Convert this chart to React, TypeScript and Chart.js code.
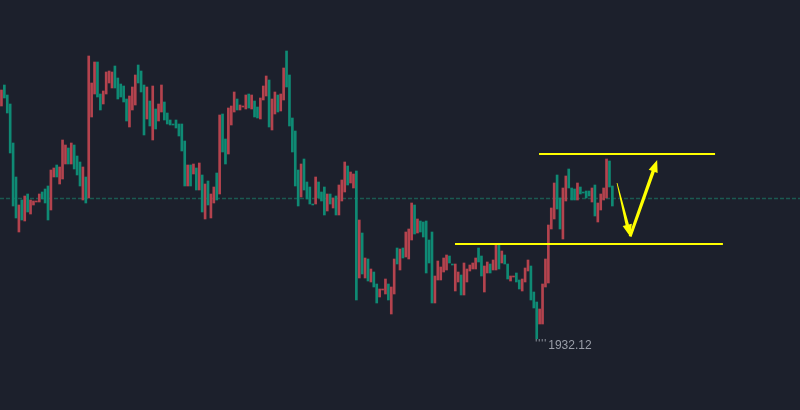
import React, { useEffect, useRef } from "react";
import { Chart, registerables } from "chart.js";

Chart.register(...registerables);

// Candle bodies (open / close)
const opens = [
  1957.0, 1956.2, 1954.7, 1950.7, 1945.4, 1944.2, 1945.5, 1944.0, 1946.4, 1944.8,
  1946.0, 1945.9, 1945.9, 1946.6, 1946.1, 1945.7, 1944.0, 1949.0, 1949.2, 1948.3,
  1949.3, 1952.0, 1951.5, 1949.6, 1951.7, 1949.1, 1948.5, 1947.4, 1949.3, 1945.7,
  1960.4, 1957.7, 1959.8, 1956.3, 1955.0, 1956.9, 1958.8, 1958.9, 1958.8, 1957.2,
  1956.1, 1956.3, 1955.8, 1953.9, 1956.4, 1957.3, 1958.5, 1957.7, 1956.8, 1952.5,
  1957.3, 1953.4, 1957.4, 1953.1, 1955.6, 1957.5, 1954.0, 1953.6, 1953.5, 1953.5,
  1953.2, 1952.4, 1950.9, 1947.4, 1949.5, 1947.4, 1949.6, 1947.0, 1949.7, 1944.8,
  1947.6, 1945.5, 1946.6, 1947.3, 1946.0, 1954.5, 1950.8, 1949.6, 1955.2, 1955.4,
  1956.8, 1955.0, 1955.5, 1955.4, 1956.5, 1955.2, 1956.5, 1954.3, 1954.2, 1956.2,
  1957.4, 1958.4, 1953.3, 1956.1, 1956.8, 1954.8, 1956.6, 1959.2, 1957.3, 1953.4,
  1950.8, 1947.4, 1945.4, 1949.6, 1947.0, 1946.1, 1945.6, 1945.5, 1948.3, 1946.2,
  1945.9, 1944.5, 1946.6, 1945.6, 1946.2, 1944.5, 1947.5, 1948.0, 1949.8, 1947.5,
  1948.8, 1948.6, 1936.0, 1944.0, 1938.6, 1940.2, 1937.9, 1939.1, 1937.3, 1935.7,
  1937.1, 1937.1, 1938.1, 1936.0, 1937.3, 1940.1, 1939.6, 1941.1, 1940.2, 1942.8,
  1943.1, 1945.7, 1942.6, 1944.1, 1942.8, 1942.3, 1938.7, 1939.7, 1935.7, 1938.4,
  1939.9, 1939.3, 1940.2, 1940.5, 1939.7, 1939.5, 1939.6, 1938.8, 1936.5, 1939.7,
  1939.1, 1939.5, 1939.7, 1940.2, 1939.8, 1938.4, 1939.4, 1939.8, 1938.7, 1940.0,
  1941.5, 1939.1, 1940.9, 1939.6, 1938.1, 1938.4, 1938.4, 1937.8, 1937.1, 1938.1,
  1939.2, 1940.0, 1936.0, 1935.2, 1932.12, 1935.1, 1937.6, 1940.1, 1943.5, 1945.2,
  1947.7, 1945.1, 1943.1, 1947.2, 1948.4, 1947.2, 1946.0, 1946.0, 1947.7, 1946.6,
  1946.7, 1946.2, 1946.4, 1947.2, 1944.4, 1945.7, 1946.6, 1947.2, 1950.1, 1947.3,
  1945.4,
];
const closes = [
  1955.4, 1957.5, 1956.5, 1955.6, 1951.7, 1948.3, 1942.8, 1946.0, 1943.9, 1946.6,
  1944.6, 1945.5, 1945.8, 1945.8, 1946.8, 1947.1, 1947.4, 1945.0, 1948.3, 1949.5,
  1947.6, 1948.1, 1949.6, 1951.2, 1949.6, 1951.5, 1950.4, 1949.8, 1946.0, 1948.3,
  1946.2, 1954.3, 1956.6, 1959.8, 1956.6, 1955.6, 1956.6, 1957.7, 1957.2, 1959.4,
  1958.2, 1957.6, 1957.4, 1956.1, 1953.3, 1955.0, 1955.5, 1959.5, 1958.9, 1957.5,
  1954.1, 1955.9, 1952.0, 1955.1, 1953.9, 1954.8, 1955.8, 1954.7, 1954.0, 1953.6,
  1954.0, 1953.6, 1953.6, 1951.9, 1947.4, 1949.5, 1948.6, 1949.2, 1947.0, 1948.5,
  1944.1, 1947.9, 1944.2, 1945.7, 1948.7, 1946.6, 1954.6, 1952.1, 1950.6, 1953.5,
  1954.8, 1956.1, 1955.0, 1955.3, 1955.1, 1956.6, 1955.1, 1955.9, 1955.3, 1954.1,
  1956.0, 1956.4, 1958.0, 1953.0, 1954.6, 1956.5, 1954.9, 1956.0, 1960.9, 1958.5,
  1954.2, 1952.9, 1949.0, 1946.3, 1950.1, 1947.8, 1947.3, 1945.6, 1945.6, 1947.8,
  1946.8, 1947.3, 1944.9, 1946.6, 1945.2, 1946.4, 1944.5, 1945.9, 1946.8, 1949.4,
  1947.7, 1947.2, 1948.9, 1938.2, 1942.7, 1938.2, 1940.1, 1937.8, 1938.8, 1937.6,
  1936.3, 1937.0, 1936.6, 1937.6, 1934.6, 1936.6, 1941.2, 1939.0, 1941.2, 1940.3,
  1940.1, 1942.0, 1945.5, 1942.7, 1943.9, 1943.8, 1943.9, 1942.0, 1942.8, 1935.7,
  1938.0, 1938.0, 1938.8, 1939.0, 1940.4, 1939.6, 1936.9, 1937.8, 1938.5, 1936.5,
  1937.8, 1938.9, 1939.1, 1939.1, 1941.2, 1940.4, 1936.8, 1938.7, 1939.6, 1939.0,
  1939.0, 1941.5, 1939.7, 1940.5, 1939.6, 1937.9, 1938.3, 1938.7, 1938.0, 1936.9,
  1937.8, 1938.9, 1939.4, 1936.8, 1935.8, 1933.6, 1933.6, 1937.3, 1937.7, 1943.1,
  1944.1, 1948.5, 1946.2, 1942.1, 1945.9, 1949.1, 1947.2, 1947.1, 1946.0, 1947.3,
  1946.8, 1946.9, 1946.9, 1945.8, 1947.5, 1943.8, 1945.0, 1946.0, 1946.2, 1949.9,
  1947.4,
];

// Total time slots on the axis (bars + empty space to the right)
const slotCount = 275;
const slotLabels = Array.from({ length: slotCount }, (_, i) => String(i));

// Price range shown
const priceMin = 1925;
const priceMax = 1966;

// Current price (dashed line)
const lastPrice = 1946.2;

// Drawn annotations, in data units (slot index, price)
const resistance = { price: 1950.6, from: 184.8, to: 245.3 };
const support = { price: 1941.6, from: 155.9, to: 248.0 };
const arrowStart = { slot: 211.6, price: 1947.7 };
const arrowBottom = { slot: 216.1, price: 1942.35 };
const arrowTop = { slot: 225.4, price: 1950.0 };

const UP = "#0f8a74";
const DOWN = "#b4434e";
const BG = "#1c202c";
const YELLOW = "#ffff00";

function drawArrow(ctx, fx, fy, tx, ty, w0, w1, headLen, headW) {
  const dx = tx - fx;
  const dy = ty - fy;
  const len = Math.hypot(dx, dy);
  const ux = dx / len;
  const uy = dy / len;
  const nx = -uy;
  const ny = ux;
  const bx = tx - ux * headLen;
  const by = ty - uy * headLen;
  ctx.beginPath();
  ctx.moveTo(fx + (nx * w0) / 2, fy + (ny * w0) / 2);
  ctx.lineTo(bx + (nx * w1) / 2, by + (ny * w1) / 2);
  ctx.lineTo(bx + (nx * headW) / 2, by + (ny * headW) / 2);
  ctx.lineTo(tx, ty);
  ctx.lineTo(bx - (nx * headW) / 2, by - (ny * headW) / 2);
  ctx.lineTo(bx - (nx * w1) / 2, by - (ny * w1) / 2);
  ctx.lineTo(fx - (nx * w0) / 2, fy - (ny * w0) / 2);
  ctx.closePath();
  ctx.fill();
}

const overlayPlugin = {
  id: "overlay",
  beforeDraw(chart) {
    const { ctx, width, height } = chart;
    ctx.save();
    ctx.fillStyle = BG;
    ctx.fillRect(0, 0, width, height);
    ctx.restore();
  },
  beforeDatasetsDraw(chart) {
    const { ctx, chartArea } = chart;
    const y = Math.round(chart.scales.y.getPixelForValue(lastPrice)) + 0.5;
    ctx.save();
    ctx.strokeStyle = "#1b5a51";
    ctx.lineWidth = 1.3;
    ctx.setLineDash([4, 2]);
    ctx.beginPath();
    ctx.moveTo(chartArea.left, y);
    ctx.lineTo(chartArea.right, y);
    ctx.stroke();
    ctx.restore();
  },
  afterDatasetsDraw(chart) {
    const { ctx } = chart;
    const xs = chart.scales.x;
    const ys = chart.scales.y;
    ctx.save();
    // horizontal levels
    ctx.strokeStyle = YELLOW;
    ctx.lineWidth = 2;
    for (const lv of [resistance, support]) {
      const y = ys.getPixelForValue(lv.price);
      ctx.beginPath();
      ctx.moveTo(xs.getPixelForValue(lv.from), y);
      ctx.lineTo(xs.getPixelForValue(lv.to), y);
      ctx.stroke();
    }
    // arrows
    ctx.fillStyle = YELLOW;
    const sx = xs.getPixelForValue(arrowStart.slot);
    const sy = ys.getPixelForValue(arrowStart.price);
    const bx = xs.getPixelForValue(arrowBottom.slot);
    const by = ys.getPixelForValue(arrowBottom.price);
    const tx = xs.getPixelForValue(arrowTop.slot);
    const ty = ys.getPixelForValue(arrowTop.price);
    drawArrow(ctx, sx, sy, bx, by, 0.8, 3.4, 12, 9.5);
    drawArrow(ctx, bx, by, tx, ty, 3, 3.4, 12, 9.5);

    // low label
    let lowIdx = 0;
    let lowVal = Infinity;
    for (let i = 0; i < opens.length; i++) {
      const lo = Math.min(opens[i], closes[i]);
      if (lo < lowVal) {
        lowVal = lo;
        lowIdx = i;
      }
    }
    const lx = xs.getPixelForValue(lowIdx);
    const ly = ys.getPixelForValue(lowVal);
    ctx.strokeStyle = "#8a8e98";
    ctx.lineWidth = 2.6;
    ctx.setLineDash([1, 2]);
    ctx.beginPath();
    ctx.moveTo(lx - 1, ly + 1.5);
    ctx.lineTo(lx + 10, ly + 1.5);
    ctx.stroke();
    ctx.setLineDash([]);
    ctx.fillStyle = "#9a9ea8";
    ctx.font = '12px "Liberation Sans", Arial, sans-serif';
    ctx.textBaseline = "middle";
    ctx.textAlign = "left";
    ctx.fillText(lowVal.toFixed(2), lx + 11.5, ly + 6.5);
    ctx.restore();
  },
};

export default function App() {
  const canvasRef = useRef(null);

  useEffect(() => {
    const canvas = canvasRef.current;
    if (!canvas) return;
    const bodies = opens.map((o, i) => [o, closes[i]]);
    const colors = opens.map((o, i) => (closes[i] >= o ? UP : DOWN));
    const chart = new Chart(canvas, {
      type: "bar",
      data: {
        labels: slotLabels,
        datasets: [
          {
            data: bodies,
            backgroundColor: colors,
            borderWidth: 0,
            barThickness: 2,
            grouped: false,
          },
        ],
      },
      options: {
        responsive: false,
        animation: false,
        layout: { padding: 0 },
        plugins: { legend: { display: false }, tooltip: { enabled: false } },
        scales: {
          x: { display: false, offset: true, grid: { display: false } },
          y: { display: false, min: priceMin, max: priceMax, grid: { display: false } },
        },
      },
      plugins: [overlayPlugin],
    });
    return () => chart.destroy();
  }, []);

  return (
    <div
      style={{
        position: "fixed",
        left: 0,
        top: 0,
        width: 800,
        height: 410,
        background: BG,
      }}
    >
      <canvas ref={canvasRef} width={800} height={410} style={{ display: "block" }} />
    </div>
  );
}
